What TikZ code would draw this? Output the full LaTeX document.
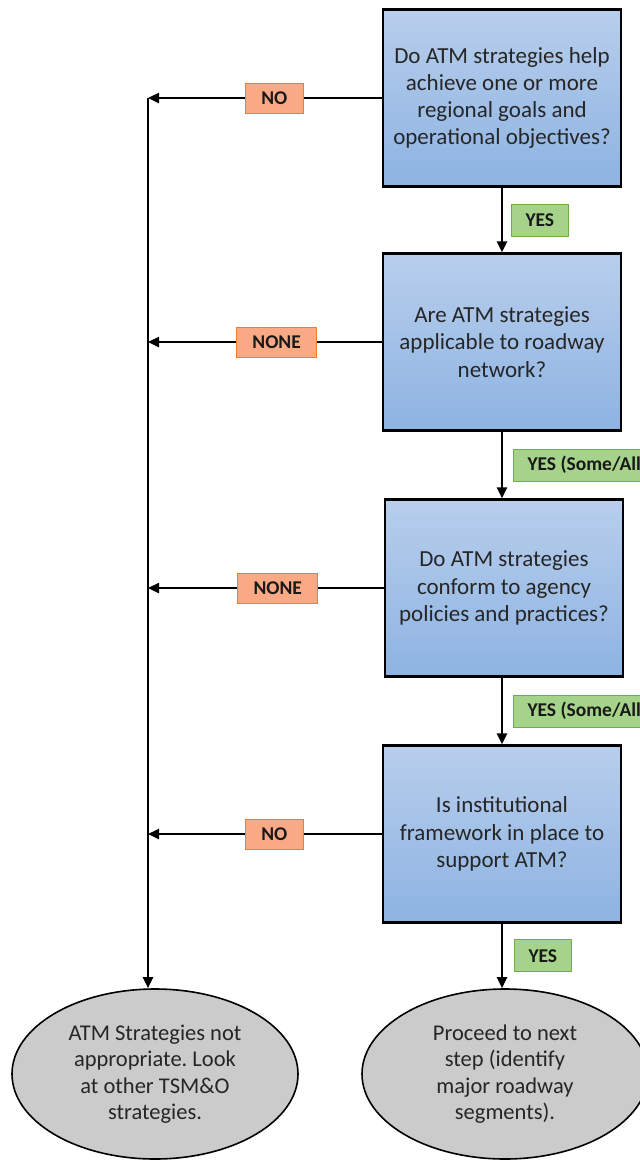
\documentclass[tikz,border=0pt]{standalone}
\usepackage{fontspec}
\setmainfont{Carlito}
\usetikzlibrary{arrows.meta,positioning,shapes.geometric}

\definecolor{qtop}{RGB}{184,206,236}
\definecolor{qbot}{RGB}{141,179,226}
\definecolor{nofill}{RGB}{249,170,132}
\definecolor{noline}{RGB}{237,125,49}
\definecolor{yesfill}{RGB}{165,211,138}
\definecolor{yesline}{RGB}{112,173,71}
\definecolor{endfill}{RGB}{203,203,203}

\begin{document}
\frenchspacing
\begin{tikzpicture}
      [x=1pt,y=-1pt
      ,question/.style={draw=black,line width=2.2pt,top color=qtop,bottom color=qbot,
         minimum width=238pt,minimum height=177pt,inner sep=0pt,align=center,
         text=black!85,font=\fontsize{23}{27.3}\selectfont}
      ,nolab/.style={draw=noline,line width=1pt,fill=nofill,inner xsep=16pt,inner ysep=0pt,
         minimum height=30pt,text=black!90,font=\fontsize{19.5}{22}\selectfont\bfseries}
      ,yeslab/.style={draw=yesline,line width=1pt,fill=yesfill,inner xsep=14pt,inner ysep=0pt,
         minimum height=32pt,text=black!90,font=\fontsize{19.5}{22}\selectfont\bfseries}
      ,outcome/.style={ellipse,draw=black,line width=1.6pt,fill=endfill,
         minimum width=286pt,minimum height=170pt,inner sep=0pt,align=center,
         text=black!85,font=\fontsize{22.5}{26.5}\selectfont}
      ,arr/.style={line width=2.4pt,-{Triangle[length=11pt,width=10pt]}}
      ]
        \useasboundingbox (0,0) rectangle (640,1160);
        \clip (0,0) rectangle (640,1160);

        \node[question] (q1) at (502,98) {Do ATM strategies help\\achieve one or more\\regional goals and\\operational objectives?};
        \node[question] (q2) at (502,342) {Are ATM strategies\\applicable to roadway\\network?};
        \node[question] (q3) at (504,588) {Do ATM strategies\\conform to agency\\policies and practices?};
        \node[question] (q4) at (502,834) {Is institutional\\framework in place to\\support ATM?};

        \node[outcome] (e1) at (155,1074) {ATM Strategies not\\appropriate. Look\\at other TSM\&O\\strategies.};
        \node[outcome] (e2) at (505,1074) {Proceed to next\\step (identify\\major roadway\\segments).};

        \coordinate (spine) at (148,98);

        \draw[arr] (q1) -- node[yeslab,right=9pt] {YES} (q2);
        \draw[arr] (q2.south) -- node[yeslab,right=11pt] {YES (Some/All)} (q2.south |- q3.north);
        \draw[arr] (q3.south -| q4.north) -- node[yeslab,right=11pt] {YES (Some/All)} (q4);
        \draw[arr] (q4.south) -- node[yeslab,right=12pt] {YES} (q4.south |- e2.north);

        \draw[arr] (q1.west) -- node[nolab,pos=.46] {NO} (q1.west -| spine);
        \draw[arr] (q2.west) -- node[nolab,pos=.45] {NONE} (q2.west -| spine);
        \draw[arr] (q3.west) -- node[nolab,pos=.45] {NONE} (q3.west -| spine);
        \draw[arr] (q4.west) -- node[nolab,pos=.46] {NO} (q4.west -| spine);
        \draw[arr] (spine) -- (spine |- e1.north);
\end{tikzpicture}
\end{document}
